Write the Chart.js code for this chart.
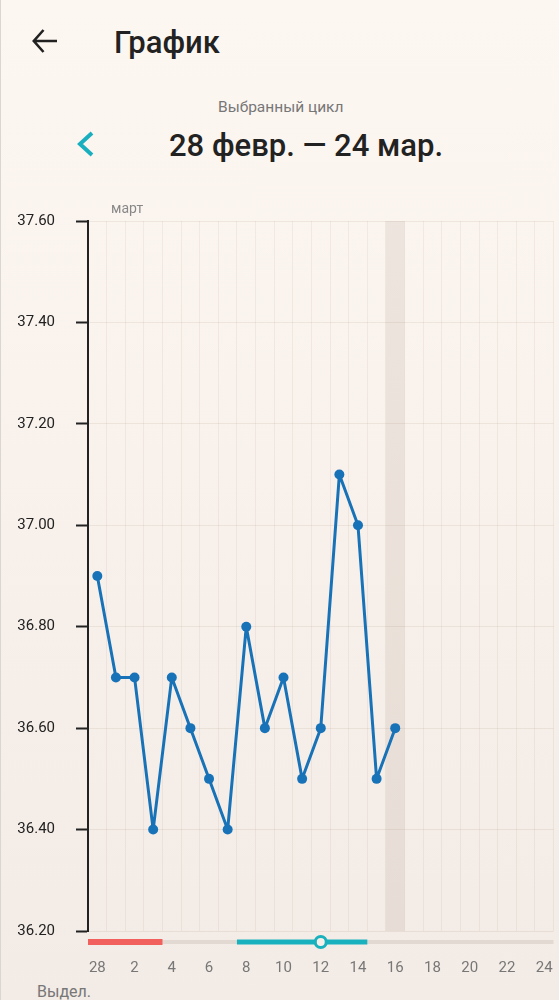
<!DOCTYPE html>
<html>
<head>
<meta charset="utf-8">
<script src="https://cdn.jsdelivr.net/npm/chart.js@4.4.0/dist/chart.umd.min.js"></script>
<style>
  html, body { margin: 0; padding: 0; }
  body {
    width: 559px; height: 1000px; overflow: hidden; position: relative;
    background: linear-gradient(#fdf7f2, #f3ebe5);
    font-family: Roboto, "Noto Sans", sans-serif;
    border-left: 1px solid #dcd6d2; box-sizing: border-box;
  }
  .t { position: absolute; line-height: 1; white-space: nowrap; }
  #chart { position: absolute; left: 0; top: 190px; }
</style>
</head>
<body>
<svg class="t" style="left:0;top:0" width="120" height="170">
  <path d="M32 41 H56 M42.5 30 L32.8 41 L42.5 52" fill="none" stroke="#222" stroke-width="2.6"/>
  <path d="M91 133 L79 144 L91 155" fill="none" stroke="#1aafbf" stroke-width="4"/>
</svg>
<div class="t" style="left:113px;top:27px;font-size:31px;font-weight:500;color:#222">График</div>
<div class="t" style="left:217px;top:100px;font-size:15.5px;color:#777">Выбранный цикл</div>
<div class="t" style="left:168px;top:130px;font-size:31px;font-weight:500;color:#222">28 февр. — 24 мар.</div>
<div class="t" style="left:36px;top:984px;font-size:16px;color:#777">Выдел.</div>

<canvas id="chart" width="559" height="790"></canvas>

<script>
// days of the cycle, 28 Feb .. 24 Mar
const days = ['28', '1', '2', '3', '4', '5', '6', '7', '8', '9', '10', '11', '12',
  '13', '14', '15', '16', '17', '18', '19', '20', '21', '22', '23', '24'];
// basal temperature, filled up to today
const temps = [36.9, 36.7, 36.7, 36.4, 36.7, 36.6, 36.5, 36.4, 36.8, 36.6, 36.7, 36.5, 36.6,
  37.1, 37.0, 36.5, 36.6, null, null, null, null, null, null, null, null];
const tempMin = 36.2;
const tempMax = 37.6;
const tempStep = 0.2;

const periodDays = ['28', '1', '2', '3'];
const fertileDays = ['8', '9', '10', '11', '12', '13', '14'];
const ovulationDay = '12';
const todayDay = '16';
const monthLabel = 'март';
const monthStartDay = '1';

const cycleMarks = {
  id: 'cycleMarks',
  beforeDatasetsDraw(chart) {
    const {ctx, chartArea, scales: {x}} = chart;
    const half = (x.getPixelForValue(1) - x.getPixelForValue(0)) / 2;
    const cx = x.getPixelForValue(days.indexOf(todayDay));
    ctx.save();
    ctx.fillStyle = 'rgba(150,120,105,0.13)';
    ctx.fillRect(cx - half, chartArea.top, half * 2, chartArea.bottom - chartArea.top);
    ctx.restore();
  },
  afterDraw(chart) {
    const {ctx, chartArea, scales: {x}} = chart;
    const half = (x.getPixelForValue(1) - x.getPixelForValue(0)) / 2;
    const px = d => x.getPixelForValue(days.indexOf(d));
    const y = chartArea.bottom + 11;
    ctx.save();
    // track
    ctx.fillStyle = '#e2d9d2';
    ctx.fillRect(chartArea.left, y - 2, chartArea.right - chartArea.left, 4);
    // period
    ctx.fillStyle = '#f2605e';
    const p0 = px(periodDays[0]) - half, p1 = px(periodDays[periodDays.length - 1]) + half;
    ctx.fillRect(p0, y - 3, p1 - p0, 6);
    // fertile window
    ctx.fillStyle = '#19b1bd';
    const f0 = px(fertileDays[0]) - half, f1 = px(fertileDays[fertileDays.length - 1]) + half;
    ctx.fillRect(f0, y - 2.5, f1 - f0, 5);
    // ovulation
    ctx.beginPath();
    ctx.arc(px(ovulationDay), y, 5.5, 0, Math.PI * 2);
    ctx.fillStyle = '#f6efe9';
    ctx.fill();
    ctx.lineWidth = 3;
    ctx.strokeStyle = '#19b1bd';
    ctx.stroke();
    // month label
    ctx.fillStyle = '#888';
    ctx.font = '14px Roboto';
    ctx.textBaseline = 'alphabetic';
    ctx.fillText(monthLabel, px(monthStartDay) - half + 4.5, chartArea.top - 8);
    ctx.restore();
  }
};

new Chart(document.getElementById('chart'), {
  type: 'line',
  data: {
    labels: days,
    datasets: [{
      data: temps,
      borderColor: '#1872b8',
      backgroundColor: '#1872b8',
      borderWidth: 3,
      borderJoinStyle: 'round',
      pointRadius: 5,
      pointBackgroundColor: '#1872b8',
      pointBorderWidth: 0,
      tension: 0
    }]
  },
  options: {
    responsive: false,
    animation: false,
    layout: {padding: {top: 31, right: 6.5, bottom: 3, left: 0}},
    plugins: {legend: {display: false}, tooltip: {enabled: false}},
    scales: {
      x: {
        offset: true,
        grid: {offset: true, color: 'rgba(120,85,60,0.07)', drawTicks: false},
        border: {display: false},
        ticks: {
          autoSkip: false, maxRotation: 0, padding: 28,
          color: '#777', font: {size: 15, family: 'Roboto'},
          callback: (v, i) => (i % 2 === 0 ? days[i] : '')
        },
        afterFit: s => { s.height = 46; s.paddingLeft = 0; s.paddingRight = 0; }
      },
      y: {
        min: tempMin,
        max: tempMax,
        ticks: {
          stepSize: tempStep, padding: 21,
          color: '#222', font: {size: 15, family: 'Roboto'},
          callback: v => v.toFixed(2)
        },
        grid: {color: 'rgba(120,85,60,0.09)', tickColor: '#222', tickLength: 12, tickWidth: 2},
        border: {color: '#222', width: 2},
        afterFit: s => { s.width = 87; }
      }
    }
  },
  plugins: [cycleMarks]
});
</script>
</body>
</html>
